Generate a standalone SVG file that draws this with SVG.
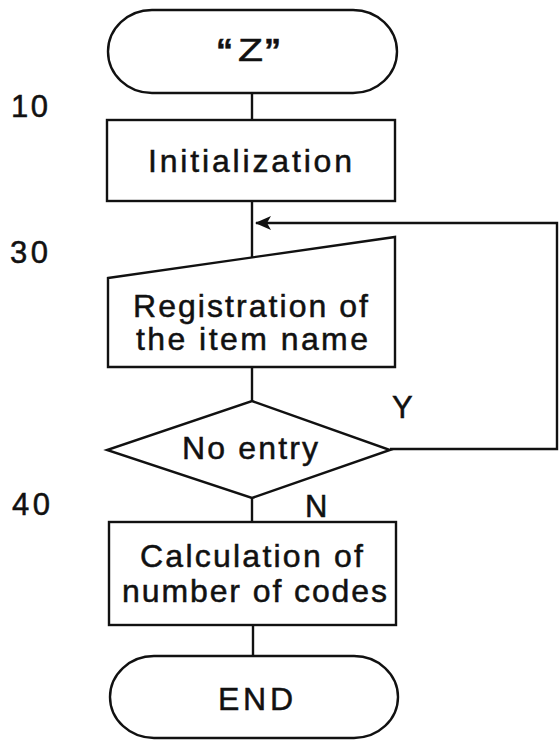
<svg xmlns="http://www.w3.org/2000/svg" width="559" height="740" viewBox="0 0 559 740">
<defs>
<marker id="arr" viewBox="0 0 16 14" refX="15" refY="7" markerWidth="16" markerHeight="14" markerUnits="userSpaceOnUse" orient="auto">
<polygon points="16,7 0,0 4,7 0,14" fill="#111"/>
</marker>
</defs>
<style>
.s{fill:#fff;stroke:#111;stroke-width:2.4}
.c{fill:none;stroke:#111;stroke-width:2.4}
text{font-family:"Liberation Sans",Arial,sans-serif;fill:#111;stroke:#111;stroke-width:0.5}
.t{font-size:32px}
.n{font-size:31px}
.q{font-size:34px;font-weight:bold}
</style>
<g id="start">
<rect class="s" x="108" y="10" width="289" height="83" rx="44" ry="41.5"/>
<text class="q" x="216" y="62">“</text>
<text class="t" x="238" y="61" textLength="25" lengthAdjust="spacingAndGlyphs">Z</text>
<text class="q" x="264" y="62">”</text>
</g>
<g id="init">
<rect class="s" x="107" y="120" width="288" height="81"/>
<text class="t" x="148" y="172" textLength="204" lengthAdjust="spacing">Initialization</text>
</g>
<g id="registration">
<polygon class="s" points="108,278 395,237 395,367 108,367"/>
<text class="t" x="133" y="317" textLength="235" lengthAdjust="spacing">Registration of</text>
<text class="t" x="136" y="350" textLength="232" lengthAdjust="spacing">the item name</text>
</g>
<g id="decision">
<polygon class="s" points="252,401 390,450 252,498 107,450"/>
<text class="t" x="182" y="459" textLength="136" lengthAdjust="spacing">No entry</text>
</g>
<g id="calc">
<rect class="s" x="109" y="522" width="287" height="103"/>
<text class="t" x="140" y="567" textLength="223" lengthAdjust="spacing">Calculation of</text>
<text class="t" x="122" y="602" textLength="265" lengthAdjust="spacing">number of codes</text>
</g>
<g id="end">
<rect class="s" x="110" y="656" width="288" height="82" rx="44" ry="41"/>
<text class="t" x="218" y="710" textLength="75" lengthAdjust="spacing">END</text>
</g>
<g id="labels">
<text class="n" x="11" y="117" textLength="37" lengthAdjust="spacing">10</text>
<text class="n" x="10" y="263" textLength="38" lengthAdjust="spacing">30</text>
<text class="n" x="12" y="515" textLength="38" lengthAdjust="spacing">40</text>
<text class="n" x="392" y="418" textLength="21" lengthAdjust="spacing">Y</text>
<text class="n" x="305" y="517" textLength="23" lengthAdjust="spacing">N</text>
</g>
<g id="connectors">
<line class="c" x1="252" y1="93" x2="252" y2="120"/>
<line class="c" x1="252" y1="201" x2="252" y2="257"/>
<line class="c" x1="252" y1="367" x2="252" y2="401"/>
<line class="c" x1="252" y1="498" x2="252" y2="522"/>
<line class="c" x1="253" y1="625" x2="253" y2="656"/>
<polyline class="c" points="390,449 557,449 557,223 256,223" marker-end="url(#arr)"/>
</g>
</svg>
